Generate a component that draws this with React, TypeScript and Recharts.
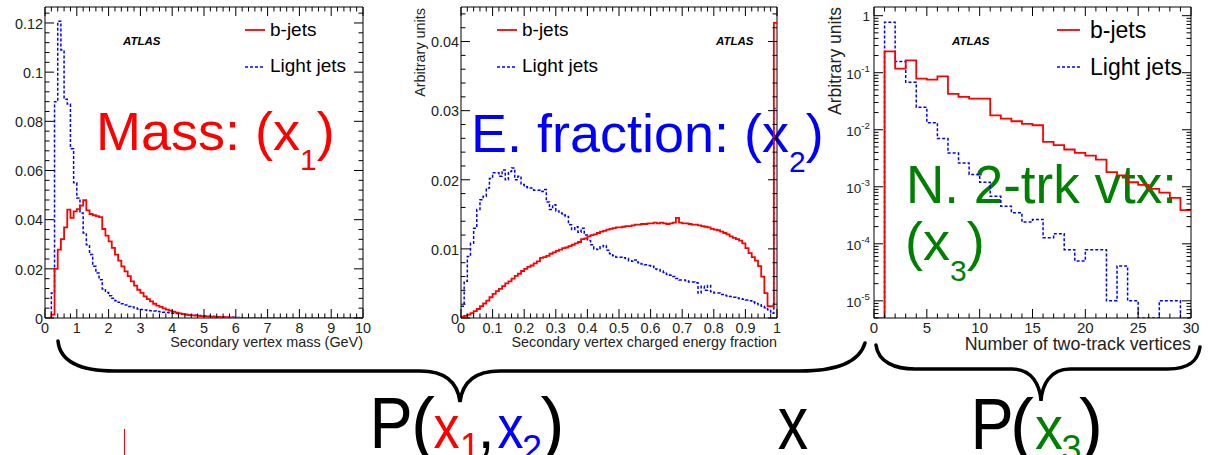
import React from "react";
import { ComposedChart, Line, XAxis, YAxis, ReferenceArea, Legend } from "recharts";

const FONT = '"Liberation Sans", Arial, Helvetica, sans-serif';
const RED = "#ff0000";
const BLUE = "#0000ff";
const GREEN = "#008000";

// ---------------- Panel 1: secondary vertex mass (100 bins, 0-10 GeV) ----------------
const massBinWidth = 0.1;
const massBJets = [
  0, 0, 0.0014, 0.02, 0.0278, 0.0321, 0.0369, 0.0441, 0.0407, 0.0434,
  0.0443, 0.0457, 0.0479, 0.0438, 0.0423, 0.0418, 0.0414, 0.041, 0.0362, 0.0335,
  0.0312, 0.0285, 0.0258, 0.0233, 0.021, 0.019, 0.017, 0.0149, 0.0132, 0.0115,
  0.0102, 0.0088, 0.0077, 0.0068, 0.0058, 0.005, 0.0045, 0.0039, 0.0034, 0.003,
  0.0026, 0.0022, 0.0019, 0.0016, 0.0014, 0.0012, 0.0011, 0.001, 0.0009, 0.0008,
  0.0007, 0.0006, 0.0005, 0.0004, 0.0004, 0.0003, 0.0003, 0.0002, 0.0002, 0.0001,
  0, 0, 0, 0, 0, 0, 0, 0, 0, 0,
  0, 0, 0, 0, 0, 0, 0, 0, 0, 0,
  0, 0, 0, 0, 0, 0, 0, 0, 0, 0,
  0, 0, 0, 0, 0, 0, 0, 0, 0, 0,
];
const massLightJets = [
  0, 0, 0.0102, 0.088, 0.1207, 0.109, 0.089, 0.087, 0.0688, 0.055,
  0.0488, 0.0427, 0.0346, 0.0298, 0.0258, 0.021, 0.0183, 0.0156, 0.0118, 0.0104,
  0.0091, 0.008, 0.007, 0.0064, 0.0058, 0.0053, 0.0047, 0.0045, 0.0041, 0.0037,
  0.0035, 0.0033, 0.0031, 0.003, 0.0028, 0.0026, 0.0025, 0.0023, 0.0022, 0.0021,
  0.0019, 0.0018, 0.0017, 0.0016, 0.0014, 0.0013, 0.0012, 0.0011, 0.001, 0.0009,
  0.0008, 0.0007, 0.0007, 0.0006, 0.0005, 0.0005, 0.0004, 0.0004, 0.0003, 0.0003,
  0.0002, 0.0002, 0.0001, 0.0001, 0.0001, 0, 0, 0, 0, 0,
  0, 0, 0, 0, 0, 0, 0, 0, 0, 0,
  0, 0, 0, 0, 0, 0, 0, 0, 0, 0,
  0, 0, 0, 0, 0, 0, 0, 0, 0, 0,
];
const massXMajor = [0, 1, 2, 3, 4, 5, 6, 7, 8, 9, 10];
const massXLabels = ["0", "1", "2", "3", "4", "5", "6", "7", "8", "9", "10"];
const massXMinorStep = 0.2;
const massYMajor = [0, 0.02, 0.04, 0.06, 0.08, 0.1, 0.12];
const massYLabels = ["0", "0.02", "0.04", "0.06", "0.08", "0.1", "0.12"];
const massYMinorStep = 0.004;
const massXDomain: [number, number] = [0, 10];
const massYDomain: [number, number] = [0, 0.1265];

// ---------------- Panel 2: charged energy fraction (100 bins, 0-1) ----------------
const efracBinWidth = 0.01;
const efracBJets = [
  0.0002, 0.0003, 0.0005, 0.0007, 0.001, 0.0013, 0.0017, 0.0021, 0.0025, 0.003,
  0.0035, 0.0039, 0.0042, 0.0046, 0.005, 0.0053, 0.0057, 0.0061, 0.0064, 0.0068,
  0.0071, 0.0074, 0.0076, 0.0079, 0.0082, 0.0087, 0.0088, 0.009, 0.0093, 0.0095,
  0.0097, 0.0099, 0.0101, 0.0102, 0.0104, 0.0106, 0.0108, 0.011, 0.0114, 0.0115,
  0.0118, 0.012, 0.0121, 0.0123, 0.0125, 0.0126, 0.0128, 0.0129, 0.013, 0.0131,
  0.0131, 0.0132, 0.0133, 0.0133, 0.0134, 0.0135, 0.0135, 0.0136, 0.0136, 0.0137,
  0.0137, 0.0138, 0.0137, 0.0138, 0.0137, 0.0136, 0.0137, 0.0138, 0.0145, 0.0138,
  0.0137, 0.0137, 0.0136, 0.0135, 0.0135, 0.0134, 0.0133, 0.0132, 0.0131, 0.0129,
  0.0128, 0.0127, 0.0125, 0.0123, 0.0121, 0.0118, 0.0116, 0.0114, 0.0112, 0.0108,
  0.0101, 0.0094, 0.0088, 0.0083, 0.0075, 0.006, 0.0036, 0.0017, 0.0017, 0.0427,
];
const efracLightJets = [
  0.0017, 0.0053, 0.0089, 0.0108, 0.013, 0.0157, 0.0171, 0.0176, 0.0188, 0.0202,
  0.021, 0.021, 0.0205, 0.0214, 0.02, 0.0212, 0.0217, 0.02, 0.0205, 0.0193,
  0.019, 0.0188, 0.0188, 0.0185, 0.0185, 0.0183, 0.0186, 0.0168, 0.0157, 0.0164,
  0.0155, 0.0152, 0.0149, 0.0147, 0.0135, 0.0128, 0.0132, 0.0124, 0.013, 0.012,
  0.0112, 0.0106, 0.01, 0.0099, 0.0103, 0.0105, 0.0098, 0.0093, 0.009, 0.0088,
  0.0088, 0.0087, 0.0086, 0.0083, 0.0082, 0.0084, 0.008, 0.0078, 0.0077, 0.0076,
  0.0075, 0.0071, 0.007, 0.0068, 0.0066, 0.0063, 0.0062, 0.006, 0.0057, 0.0055,
  0.0055, 0.0054, 0.0052, 0.0052, 0.0051, 0.0036, 0.0046, 0.004, 0.0047, 0.0038,
  0.0036, 0.0036, 0.0034, 0.0033, 0.0032, 0.0031, 0.003, 0.0029, 0.0028, 0.0027,
  0.0026, 0.0025, 0.0023, 0.0021, 0.0019, 0.0017, 0.0015, 0.0012, 0.0007, 0.0303,
];
const efracXMajor = [0, 0.1, 0.2, 0.3, 0.4, 0.5, 0.6, 0.7, 0.8, 0.9, 1];
const efracXLabels = ["0", "0.1", "0.2", "0.3", "0.4", "0.5", "0.6", "0.7", "0.8", "0.9", "1"];
const efracXMinorStep = 0.02;
const efracYMajor = [0, 0.01, 0.02, 0.03, 0.04];
const efracYLabels = ["0", "0.01", "0.02", "0.03", "0.04"];
const efracYMinorStep = 0.002;
const efracXDomain: [number, number] = [0, 1];
const efracYDomain: [number, number] = [0, 0.045];

// ---------------- Panel 3: number of two-track vertices (30 bins, log y) ----------------
const ntrkBinWidth = 1;
const ntrkBJets = [
  0, 0.237, 0.118, 0.165, 0.0788, 0.0758, 0.0865, 0.0425, 0.0377, 0.0352,
  0.0352, 0.0179, 0.0157, 0.0141, 0.0127, 0.012, 0.00614, 0.00537, 0.0045, 0.00394,
  0.00353, 0.003, 0.0018, 0.00158, 0.0012, 0.00108, 0.00092, 0.00079, 0.00064, 0.00039,
];
const ntrkLightJets = [
  0, 0.764, 0.158, 0.068, 0.0248, 0.0132, 0.007, 0.0039, 0.0026, 0.00164,
  0.0012, 0.00068, 0.000457, 0.00035, 0.00024, 0.000267, 0.000128, 0.00015, 0.000079, 0.00005,
  0.000079, 0.000079, 0.00001, 0.000041, 0.00001, 0, 0, 0.00001, 0.00001, 0,
];
const ntrkXMajor = [0, 5, 10, 15, 20, 25, 30];
const ntrkXLabels = ["0", "5", "10", "15", "20", "25", "30"];
const ntrkXMinorStep = 1;
const ntrkYMajor = [1e-5, 1e-4, 1e-3, 1e-2, 1e-1, 1];
const ntrkYExponents = ["-5", "-4", "-3", "-2", "-1", ""];
const ntrkXDomain: [number, number] = [0, 30];
const ntrkYDomain: [number, number] = [5e-6, 1.42];

// ---------------- helpers ----------------
type Pt = { x: number; b: number; l: number };
function histData(w: number, b: number[], l: number[], floor: number): Pt[] {
  const pts: Pt[] = b.map((v, i) => ({
    x: +(i * w).toFixed(6),
    b: Math.max(v, floor),
    l: Math.max(l[i], floor),
  }));
  const n = b.length;
  pts.push({ x: +(n * w).toFixed(6), b: Math.max(b[n - 1], floor), l: Math.max(l[n - 1], floor) });
  return pts;
}
function linTicks(min: number, max: number, step: number): number[] {
  const out: number[] = [];
  const n = Math.round((max - min) / step);
  for (let i = 0; i <= n; i++) out.push(+(min + i * step).toFixed(6));
  return out;
}
function logTicks(min: number, max: number): number[] {
  const out: number[] = [];
  for (let k = -7; k <= 1; k++) {
    for (let m = 1; m <= 9; m++) {
      const v = +(m * Math.pow(10, k)).toPrecision(6);
      if (v >= min * 0.9999 && v <= max) out.push(v);
    }
  }
  return out;
}

const PH = 311;
const MAJ = 9;
const MIN = 4.5;

const makeXTick =
  (majors: number[], labels: string[], fs: number, dy: number) =>
  (props: any) => {
    const { x, y, payload } = props;
    const v = payload.value;
    const idx = majors.findIndex((m) => Math.abs(m - v) < 1e-7);
    const len = idx >= 0 ? MAJ : MIN;
    return (
      <g>
        <line x1={x} y1={y} x2={x} y2={y - len} stroke="#000" strokeWidth={1} />
        <line x1={x} y1={y - PH} x2={x} y2={y - PH + len} stroke="#000" strokeWidth={1} />
        {idx >= 0 && (
          <text x={x} y={y + dy} textAnchor="middle" fontSize={fs} fontFamily={FONT} fill="#222">
            {labels[idx]}
          </text>
        )}
      </g>
    );
  };

const makeYTick =
  (majors: number[], labels: string[], plotW: number, fs: number) =>
  (props: any) => {
    const { x, y, payload } = props;
    const v = payload.value;
    const idx = majors.findIndex((m) => Math.abs(m - v) < 1e-7);
    const len = idx >= 0 ? MAJ : MIN;
    return (
      <g>
        <line x1={x} y1={y} x2={x + len} y2={y} stroke="#000" strokeWidth={1} />
        <line x1={x + plotW} y1={y} x2={x + plotW - len} y2={y} stroke="#000" strokeWidth={1} />
        {idx >= 0 && (
          <text x={x - 2} y={y + fs * 0.4} textAnchor="end" fontSize={fs} fontFamily={FONT} fill="#222">
            {labels[idx]}
          </text>
        )}
      </g>
    );
  };

const makeLogYTick =
  (majors: number[], exps: string[], plotW: number, fs: number) =>
  (props: any) => {
    const { x, y, payload } = props;
    const v = payload.value;
    const idx = majors.findIndex((m) => Math.abs(Math.log10(m) - Math.log10(v)) < 1e-6);
    const len = idx >= 0 ? MAJ : MIN;
    return (
      <g>
        <line x1={x} y1={y} x2={x + len} y2={y} stroke="#000" strokeWidth={1} />
        <line x1={x + plotW} y1={y} x2={x + plotW - len} y2={y} stroke="#000" strokeWidth={1} />
        {idx >= 0 &&
          (exps[idx] === "" ? (
            <text x={x - 4} y={y + fs * 0.38} textAnchor="end" fontSize={fs} fontFamily={FONT} fill="#222">
              1
            </text>
          ) : (
            <text x={x - 4} y={y + fs * 0.45} textAnchor="end" fontSize={fs} fontFamily={FONT} fill="#222">
              <tspan>10</tspan>
              <tspan dy={-fs * 0.5} fontSize={fs * 0.72}>
                {exps[idx]}
              </tspan>
            </text>
          ))}
      </g>
    );
  };

type LegCfg = { w: number; h: number; lx1: number; lx2: number; tx: number; ly1: number; ly2: number; ty1: number; ty2: number; fs: number };
const makeLegend = (c: LegCfg) => () =>
  (
    <svg width={c.w} height={c.h} style={{ position: "absolute", left: 0, top: 0, overflow: "visible" }}>
      <line x1={c.lx1} x2={c.lx2} y1={c.ly1} y2={c.ly1} stroke={RED} strokeWidth={1.8} />
      <text x={c.tx} y={c.ty1} fontSize={c.fs} fontFamily={FONT} fill="#000">
        b-jets
      </text>
      <line x1={c.lx1} x2={c.lx2} y1={c.ly2} y2={c.ly2} stroke={BLUE} strokeWidth={1.5} strokeDasharray="3 2" />
      <text x={c.tx} y={c.ty2} fontSize={c.fs} fontFamily={FONT} fill="#000">
        Light jets
      </text>
    </svg>
  );

const massData = histData(massBinWidth, massBJets, massLightJets, 0);
const efracData = histData(efracBinWidth, efracBJets, efracLightJets, 0);
const ntrkData = histData(ntrkBinWidth, ntrkBJets, ntrkLightJets, ntrkYDomain[0]);

type PanelProps = {
  left: number;
  width: number;
  plotLeft: number;
  plotRight: number;
  data: Pt[];
  xDomain: [number, number];
  yDomain: [number, number];
  xTicks: number[];
  yTicks: number[];
  xTick: any;
  yTick: any;
  log?: boolean;
  legend: LegCfg;
};

function Panel(p: PanelProps) {
  const H = 360;
  const yAxisW = 40;
  const xAxisH = 30;
  return (
    <div style={{ position: "absolute", left: p.left, top: 0 }}>
      <ComposedChart
        width={p.width}
        height={H}
        data={p.data}
        margin={{ top: 7, left: p.plotLeft - yAxisW, right: p.width - p.plotRight, bottom: H - 7 - PH - xAxisH }}
      >
        <XAxis
          dataKey="x"
          type="number"
          domain={p.xDomain}
          ticks={p.xTicks}
          interval={0}
          allowDataOverflow
          axisLine={false}
          tickLine={false}
          tickSize={0}
          tickMargin={0}
          height={xAxisH}
          tick={p.xTick}
        />
        <YAxis
          type="number"
          domain={p.yDomain}
          scale={p.log ? "log" : "linear"}
          ticks={p.yTicks}
          interval={0}
          allowDataOverflow
          axisLine={false}
          tickLine={false}
          tickSize={0}
          tickMargin={0}
          width={yAxisW}
          tick={p.yTick}
        />
        <ReferenceArea
          x1={p.xDomain[0]}
          x2={p.xDomain[1]}
          y1={p.yDomain[0]}
          y2={p.yDomain[1]}
          fill="none"
          fillOpacity={0}
          stroke="#000"
          strokeWidth={1}
          ifOverflow="visible"
        />
        <Line
          type="stepAfter"
          dataKey="l"
          stroke={BLUE}
          strokeWidth={1.5}
          strokeDasharray="3 2"
          dot={false}
          activeDot={false}
          isAnimationActive={false}
        />
        <Line
          type="stepAfter"
          dataKey="b"
          stroke={RED}
          strokeWidth={1.8}
          dot={false}
          activeDot={false}
          isAnimationActive={false}
        />
        <Legend
          layout="horizontal"
          verticalAlign="middle"
          align="center"
          content={makeLegend(p.legend)}
          wrapperStyle={{ left: 0, top: 0, width: p.legend.w, height: p.legend.h, pointerEvents: "none" }}
        />
      </ComposedChart>
    </div>
  );
}

type Glyph = { t: string; cx: number; y: number; fs: number; sx: number; c: string };
const formulaGlyphs: Glyph[] = [
  { t: "P", cx: 391, y: 448, fs: 72, sx: 0.9, c: "#000" },
  { t: "(", cx: 423, y: 448, fs: 72, sx: 1, c: "#000" },
  { t: "x", cx: 446.5, y: 448, fs: 62, sx: 0.84, c: RED },
  { t: "1", cx: 470, y: 459, fs: 36, sx: 1, c: RED },
  { t: ",", cx: 486, y: 448, fs: 62, sx: 1, c: "#000" },
  { t: "x", cx: 510.5, y: 448, fs: 62, sx: 0.84, c: BLUE },
  { t: "2", cx: 532, y: 461, fs: 36, sx: 1, c: BLUE },
  { t: ")", cx: 552.5, y: 448, fs: 72, sx: 1, c: "#000" },
  { t: "x", cx: 793, y: 449, fs: 76, sx: 0.8, c: "#000" },
  { t: "P", cx: 992, y: 449, fs: 72, sx: 0.9, c: "#000" },
  { t: "(", cx: 1022, y: 449, fs: 72, sx: 1, c: "#000" },
  { t: "x", cx: 1049, y: 449, fs: 62, sx: 0.9, c: GREEN },
  { t: "3", cx: 1071.5, y: 461, fs: 36, sx: 1, c: GREEN },
  { t: ")", cx: 1091, y: 449, fs: 72, sx: 1, c: "#000" },
];

export default function App() {
  const massXTicks = linTicks(massXDomain[0], massXDomain[1], massXMinorStep);
  const massYTicks = linTicks(0, 0.124, massYMinorStep);
  const efracXTicks = linTicks(efracXDomain[0], efracXDomain[1], efracXMinorStep);
  const efracYTicks = linTicks(0, 0.044, efracYMinorStep);
  const ntrkXTicks = linTicks(ntrkXDomain[0], ntrkXDomain[1], ntrkXMinorStep);
  const ntrkYTicks = logTicks(ntrkYDomain[0], ntrkYDomain[1]);

  return (
    <div
      style={{
        position: "absolute",
        left: 0,
        top: 0,
        width: 1214,
        height: 455,
        background: "#fff",
        overflow: "hidden",
        fontFamily: FONT,
      }}
    >
      <svg width={1214} height={455} style={{ position: "absolute", left: 0, top: 0 }}>
        {/* big annotation labels */}
        <text x={96} y={150} fontSize={54} fontFamily={FONT} fill={RED}>
          <tspan>Mass: (x</tspan>
          <tspan dy={20} fontSize={30}>1</tspan>
          <tspan dy={-20}>)</tspan>
        </text>
        <text x={471} y={152} fontSize={54} fontFamily={FONT} fill={BLUE}>
          <tspan>E. fraction: (x</tspan>
          <tspan dy={20} fontSize={30}>2</tspan>
          <tspan dy={-20}>)</tspan>
        </text>
        <text x={906} y={203} fontSize={53} fontFamily={FONT} fill={GREEN}>
          N. 2-trk vtx:
        </text>
        <text x={905} y={260} fontSize={54} fontFamily={FONT} fill={GREEN}>
          <tspan>(x</tspan>
          <tspan dy={21} fontSize={30}>3</tspan>
          <tspan dy={-21}>)</tspan>
        </text>

        {/* ATLAS labels */}
        <text x={123} y={44.5} fontSize={11.5} fontWeight="bold" fontStyle="italic" fontFamily={FONT} fill="#000">
          ATLAS
        </text>
        <text x={716} y={44.5} fontSize={11.5} fontWeight="bold" fontStyle="italic" fontFamily={FONT} fill="#000">
          ATLAS
        </text>
        <text x={952} y={44.5} fontSize={11.5} fontWeight="bold" fontStyle="italic" fontFamily={FONT} fill="#000">
          ATLAS
        </text>

        {/* axis titles */}
        <text x={363} y={347} textAnchor="end" fontSize={14.4} fontFamily={FONT} fill="#222">
          Secondary vertex mass (GeV)
        </text>
        <text x={777} y={347} textAnchor="end" fontSize={14.3} fontFamily={FONT} fill="#222">
          Secondary vertex charged energy fraction
        </text>
        <text x={1191} y={350} textAnchor="end" fontSize={17.8} fontFamily={FONT} fill="#222">
          Number of two-track vertices
        </text>
        <text transform="translate(425,8) rotate(-90)" textAnchor="end" fontSize={14.4} fontFamily={FONT} fill="#222">
          Arbitrary units
        </text>
        <text transform="translate(841,7) rotate(-90)" textAnchor="end" fontSize={17.5} fontFamily={FONT} fill="#222">
          Arbitrary units
        </text>

        {/* braces */}
        <path
          d="M 58 341 C 60 362, 80 371, 115 371 L 420 371 C 448 371, 458 385, 460 402 C 462 385, 472 371, 500 371 L 800 371 C 840 371, 860 360, 865 343"
          fill="none"
          stroke="#000"
          strokeWidth={3.5}
          strokeLinecap="round"
        />
        <path
          d="M 876 345 C 878 362, 895 369, 915 369 L 1012 369 C 1032 369, 1040 385, 1041 401 C 1042 385, 1050 369, 1070 369 L 1168 369 C 1190 369, 1198 360, 1200 347"
          fill="none"
          stroke="#000"
          strokeWidth={3.5}
          strokeLinecap="round"
        />

        {/* formula */}
        {formulaGlyphs.map((g, i) => (
          <text
            key={i}
            transform={`translate(${g.cx},${g.y}) scale(${g.sx},1)`}
            textAnchor="middle"
            fontSize={g.fs}
            fontFamily={FONT}
            fill={g.c}
          >
            {g.t}
          </text>
        ))}
        <line x1={124.5} y1={429} x2={124.5} y2={455} stroke={RED} strokeWidth={1} />
      </svg>

      <Panel
        left={0}
        width={380}
        plotLeft={45}
        plotRight={363}
        data={massData}
        xDomain={massXDomain}
        yDomain={massYDomain}
        xTicks={massXTicks}
        yTicks={massYTicks}
        xTick={makeXTick(massXMajor, massXLabels, 14.4, 15)}
        yTick={makeYTick(massYMajor, massYLabels, 318, 14.4)}
        legend={{ w: 380, h: 360, lx1: 245, lx2: 265, tx: 270, ly1: 30, ly2: 67, ty1: 36, ty2: 72, fs: 19 }}
      />
      <Panel
        left={400}
        width={400}
        plotLeft={61}
        plotRight={377}
        data={efracData}
        xDomain={efracXDomain}
        yDomain={efracYDomain}
        xTicks={efracXTicks}
        yTicks={efracYTicks}
        xTick={makeXTick(efracXMajor, efracXLabels, 14.4, 15)}
        yTick={makeYTick(efracYMajor, efracYLabels, 316, 14.4)}
        legend={{ w: 400, h: 360, lx1: 97, lx2: 117, tx: 122, ly1: 30, ly2: 67, ty1: 36, ty2: 72, fs: 19 }}
      />
      <Panel
        left={810}
        width={404}
        plotLeft={64}
        plotRight={381}
        data={ntrkData}
        xDomain={ntrkXDomain}
        yDomain={ntrkYDomain}
        xTicks={ntrkXTicks}
        yTicks={ntrkYTicks}
        xTick={makeXTick(ntrkXMajor, ntrkXLabels, 15, 15)}
        yTick={makeLogYTick(ntrkYMajor, ntrkYExponents, 317, 13.5)}
        log
        legend={{ w: 404, h: 360, lx1: 247, lx2: 270, tx: 280, ly1: 30, ly2: 67, ty1: 38, ty2: 75, fs: 23 }}
      />
    </div>
  );
}
